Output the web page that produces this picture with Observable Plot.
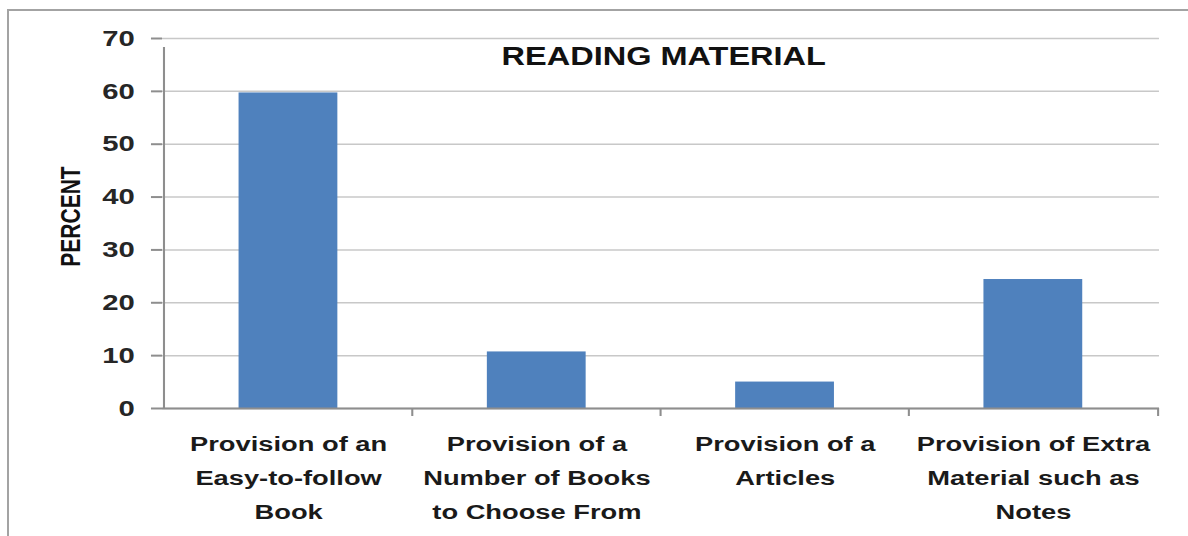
<!DOCTYPE html>
<html>
<head>
<meta charset="utf-8">
<script src="https://cdn.jsdelivr.net/npm/d3@7"></script>
<script src="https://cdn.jsdelivr.net/npm/@observablehq/plot@0.6"></script>
<style>
  html, body { margin: 0; padding: 0; background: #fff; }
  #wrap { position: relative; width: 1188px; height: 536px; overflow: hidden; background: #fff; }
  #frame { position: absolute; left: 7px; top: 9px; width: 1300px; height: 700px;
           border-left: 2px solid #a3a3a3; border-top: 2px solid #a3a3a3; box-sizing: border-box; }
  #chart { position: absolute; left: 0; top: 0; }
  #chart svg { transform: scaleX(1.3); transform-origin: 0 0; max-width: none; }
</style>
</head>
<body>
<div id="wrap"><div id="frame"></div><div id="chart"></div></div>
<script>
const categories = [
  "Provision of an\nEasy-to-follow\nBook",
  "Provision of a\nNumber of Books\nto Choose From",
  "Provision of a\nArticles",
  "Provision of Extra\nMaterial such as\nNotes"
];
const percents = [59.7, 10.7, 5.0, 24.4];
const yTicks = [0, 10, 20, 30, 40, 50, 60, 70];
const chartTitle = "READING MATERIAL";
const yLabel = "PERCENT";

const data = categories.map((c, i) => ({category: c, value: percents[i]}));

const S = 1.3;               // horizontal stretch of the original image
const W = 1188 / S;
const mL = 162 / S, mR = (1188 - 1159) / S;
const step = (W - mL - mR) / categories.length;
const axisColor = "#8e8e8e";

const chart = Plot.plot({
  width: W,
  height: 536,
  marginTop: 38,
  marginBottom: 128,
  marginLeft: mL,
  marginRight: mR,
  style: {fontFamily: "Liberation Sans, Arial, sans-serif", fontSize: "21px", background: "transparent", overflow: "visible", color: "#222"},
  x: {domain: categories, padding: 0},
  y: {domain: [0, 70]},
  marks: [
    Plot.gridY(yTicks, {stroke: "#c8c8c8", strokeOpacity: 1, strokeWidth: 1.5}),
    Plot.barY(data, {x: "category", y: "value", fill: "#4F81BD", insetLeft: 57.5, insetRight: 57.5}),
    Plot.ruleY([0], {stroke: axisColor, strokeWidth: 2}),
    Plot.ruleX([categories[0]], {y1: 0, y2: 70, dx: -step / 2, insetBottom: -9, stroke: axisColor, strokeWidth: 1.6}),
    Plot.ruleX(categories.slice(1), {y1: 0, y2: 0, dx: -step / 2, insetBottom: -8, stroke: axisColor, strokeWidth: 1.6}),
    Plot.ruleX([categories[categories.length - 1]], {y1: 0, y2: 0, dx: step / 2, insetBottom: -8, stroke: axisColor, strokeWidth: 1.6}),
    Plot.axisY(yTicks, {tickSize: 8.5, tickPadding: 13, stroke: axisColor, strokeWidth: 2, fill: "#262626",
      fontSize: 22.5, fontWeight: "bold", label: null}),
    Plot.axisX({tickSize: 0, tickPadding: 18, fontSize: 21, fontWeight: "bold", fill: "#1a1a1a", lineHeight: 1.62, label: null}),
    Plot.text([chartTitle], {text: d => d, frameAnchor: "top", lineAnchor: "top", dy: 9, dx: 2,
      fontSize: 25, fontWeight: "bold", fill: "#111"}),
    Plot.text([yLabel], {text: d => d, frameAnchor: "left", textAnchor: "middle", rotate: -90, dx: -70, dy: -7,
      fontSize: 21, fontWeight: "bold", fill: "#111"})
  ]
});
document.getElementById("chart").appendChild(chart);
</script>
</body>
</html>
